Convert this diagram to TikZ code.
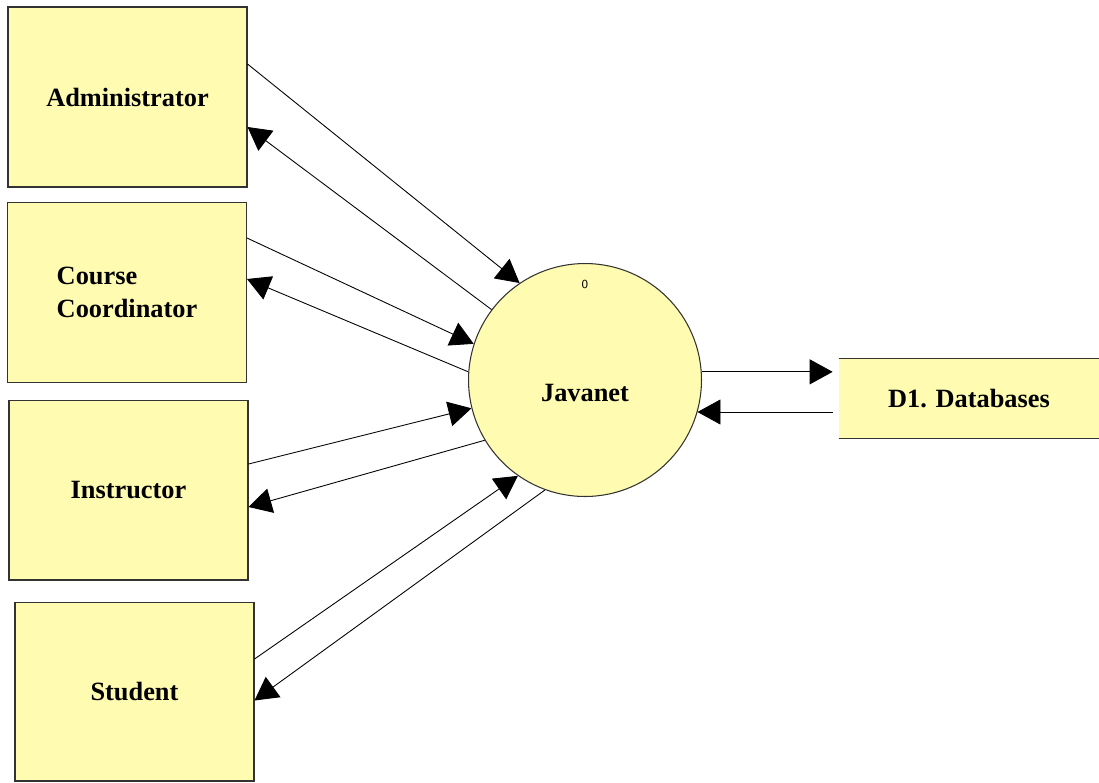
\documentclass[tikz,border=0pt]{standalone}
\usepackage{fontspec}
\setmainfont{Liberation Serif}
\usetikzlibrary{arrows.meta,shapes,positioning}
\definecolor{boxyellow}{RGB}{255,251,176}

\begin{document}
\begin{tikzpicture}[
  x=0.02cm, y=-0.02cm,
  entity/.style={rectangle, draw=black!80, line width=0.6pt, fill=boxyellow, minimum width=4.78cm, minimum height=3.6cm, inner sep=0pt, font=\fontsize{15}{19}\selectfont\bfseries},
  process/.style={circle, draw=black!80, line width=0.6pt, fill=boxyellow, minimum size=4.66cm, inner sep=0pt},
  store/.style={rectangle, fill=boxyellow, minimum width=5.2cm, minimum height=1.58cm, inner sep=0pt, font=\fontsize{15}{19}\selectfont\bfseries},
  arrow/.style={-{Triangle[length=0.46cm,width=0.5cm]}, line width=0.5pt}
]
\useasboundingbox (0,0) rectangle (1099,782);
\node[entity] (adm) at (127.5,97) {Administrator};
\node[entity, align=left] (cc) at (127,292.5) {Course\\Coordinator};
\node[entity] (ins) at (128.5,490) {Instructor};
\node[entity, minimum height=3.58cm] (stu) at (134.5,691.5) {Student};
\node[process] (jav) at (585,380) {};
\node[font=\fontsize{15}{19}\selectfont\bfseries] (javtxt) at (585,393) {Javanet};
\node[font=\sffamily\fontsize{7}{8}\selectfont] (javnum) at (585,284) {0};
\node[store] (db) at (969,398.5) {D1. Databases};
\draw[line width=0.6pt, draw=black!80] (db.north west) -- (db.north east);
\draw[line width=0.6pt, draw=black!80] (db.south west) -- (db.south east);
% flows between the entities and the process
\draw[arrow] ([yshift=0.66cm]adm.east) -- (jav.124);
\draw[arrow] (jav.143) -- ([yshift=-0.6cm]adm.east);
\draw[arrow] ([yshift=1.09cm]cc.east) -- (jav.162);
\draw[arrow] (jav.176) -- ([yshift=0.27cm]cc.east);
\draw[arrow] ([yshift=0.52cm]ins.east) -- (jav.194);
\draw[arrow] (jav.211) -- ([yshift=-0.34cm]ins.east);
\draw[arrow] ([yshift=0.65cm]stu.east) -- (jav.235);
\draw[arrow] (jav.250) -- ([yshift=-0.18cm]stu.east);
% flows to and from the data store
\coordinate (dbin) at ([xshift=-0.12cm,yshift=-0.27cm]db.west);
\draw[arrow, shorten >=0.12cm] (jav.4) -- (jav.4 -| db.west);
\draw[arrow] (dbin) -- (dbin -| jav.-16);
\end{tikzpicture}
\end{document}
